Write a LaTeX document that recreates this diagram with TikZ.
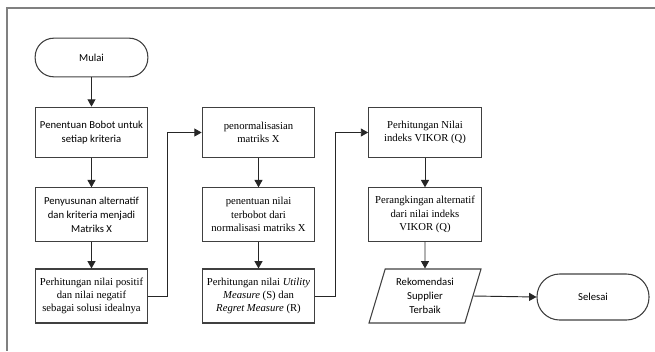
\documentclass[tikz,border=0pt]{standalone}
\usepackage{fontspec}
\setmainfont{Liberation Serif}
\newfontfamily\calibri{Carlito}
\usetikzlibrary{arrows.meta,shapes.geometric}
\tikzset{
	box/.style={draw=black!75, line width=0.8pt, minimum width=84.5pt, align=center,
		font=\fontsize{8}{10}\selectfont, inner sep=1pt},
	sbox/.style={box, font=\calibri\fontsize{8}{10.5}\selectfont},
	term/.style={sbox, rounded corners=14pt},
	io/.style={sbox, trapezium, trapezium left angle=67, trapezium right angle=113,
		trapezium stretches body, minimum width=84pt, minimum height=40.5pt},
	flow/.style={draw=black!85, line width=0.7pt, -{Triangle[length=5.5pt,width=6pt]}},
}

\begin{document}
\begin{tikzpicture}[x=0.75pt,y=-0.75pt]
\useasboundingbox (0,0) rectangle (655,351);
% frame
\draw[black!50, line width=1.3pt] (655,8) -- (7,8) -- (7,351);

% kolom 1
\node[term, minimum height=29pt] (mulai) at (91.5,57.5) {Mulai};
\node[sbox, minimum height=38pt] (bobot) at (91.5,132.5) {Penentuan Bobot untuk\\setiap kriteria};
\node[sbox, minimum height=40pt] (matriks) at (91.5,214.5) {Penyusunan alternatif\\dan kriteria menjadi\\Matriks X};
\node[box, minimum height=40.5pt] (ideal) at (91.5,296) {Perhitungan nilai positif\\dan nilai negatif\\sebagai solusi idealnya};

% kolom 2
\node[box, minimum height=38pt] (norm) at (258.5,132.5) {penormalisasian\\matriks X};
\node[box, minimum height=40pt] (bobotnorm) at (258.5,214.5) {penentuan nilai\\terbobot dari\\normalisasi matriks X};
\node[box, minimum height=40.5pt] (utility) at (258.5,296) {Perhitungan nilai \textit{Utility}\\\textit{Measure} (S) dan\\\textit{Regret Measure} (R)};

% kolom 3
\node[box, minimum height=38pt] (vikor) at (425,132.5) {Perhitungan Nilai\\indeks VIKOR (Q)};
\node[box, minimum height=40pt] (rank) at (425,214.5) {Perangkingan alternatif\\dari nilai indeks\\VIKOR (Q)};
\node[io] (rekom) at (425,296) {Rekomendasi\\Supplier\\Terbaik};
\node[term, minimum height=34.5pt, minimum width=84pt, rounded corners=17pt] (selesai) at (593,297) {Selesai};

% panah
\draw[flow] (mulai) -- (bobot);
\draw[flow] (bobot) -- (matriks);
\draw[flow] (matriks) -- (ideal);
\draw[flow] (ideal.east) -- ++(19,0) |- (norm.west);
\draw[flow] (norm) -- (bobotnorm);
\draw[flow] (bobotnorm) -- (utility);
\draw[flow] (utility.east) -- ++(20,0) |- (vikor.west);
\draw[flow] (vikor) -- (rank);
\draw[flow] (rank) -- (rekom);
\draw[flow] (rekom.east) -- (selesai.west);
\end{tikzpicture}
\end{document}
